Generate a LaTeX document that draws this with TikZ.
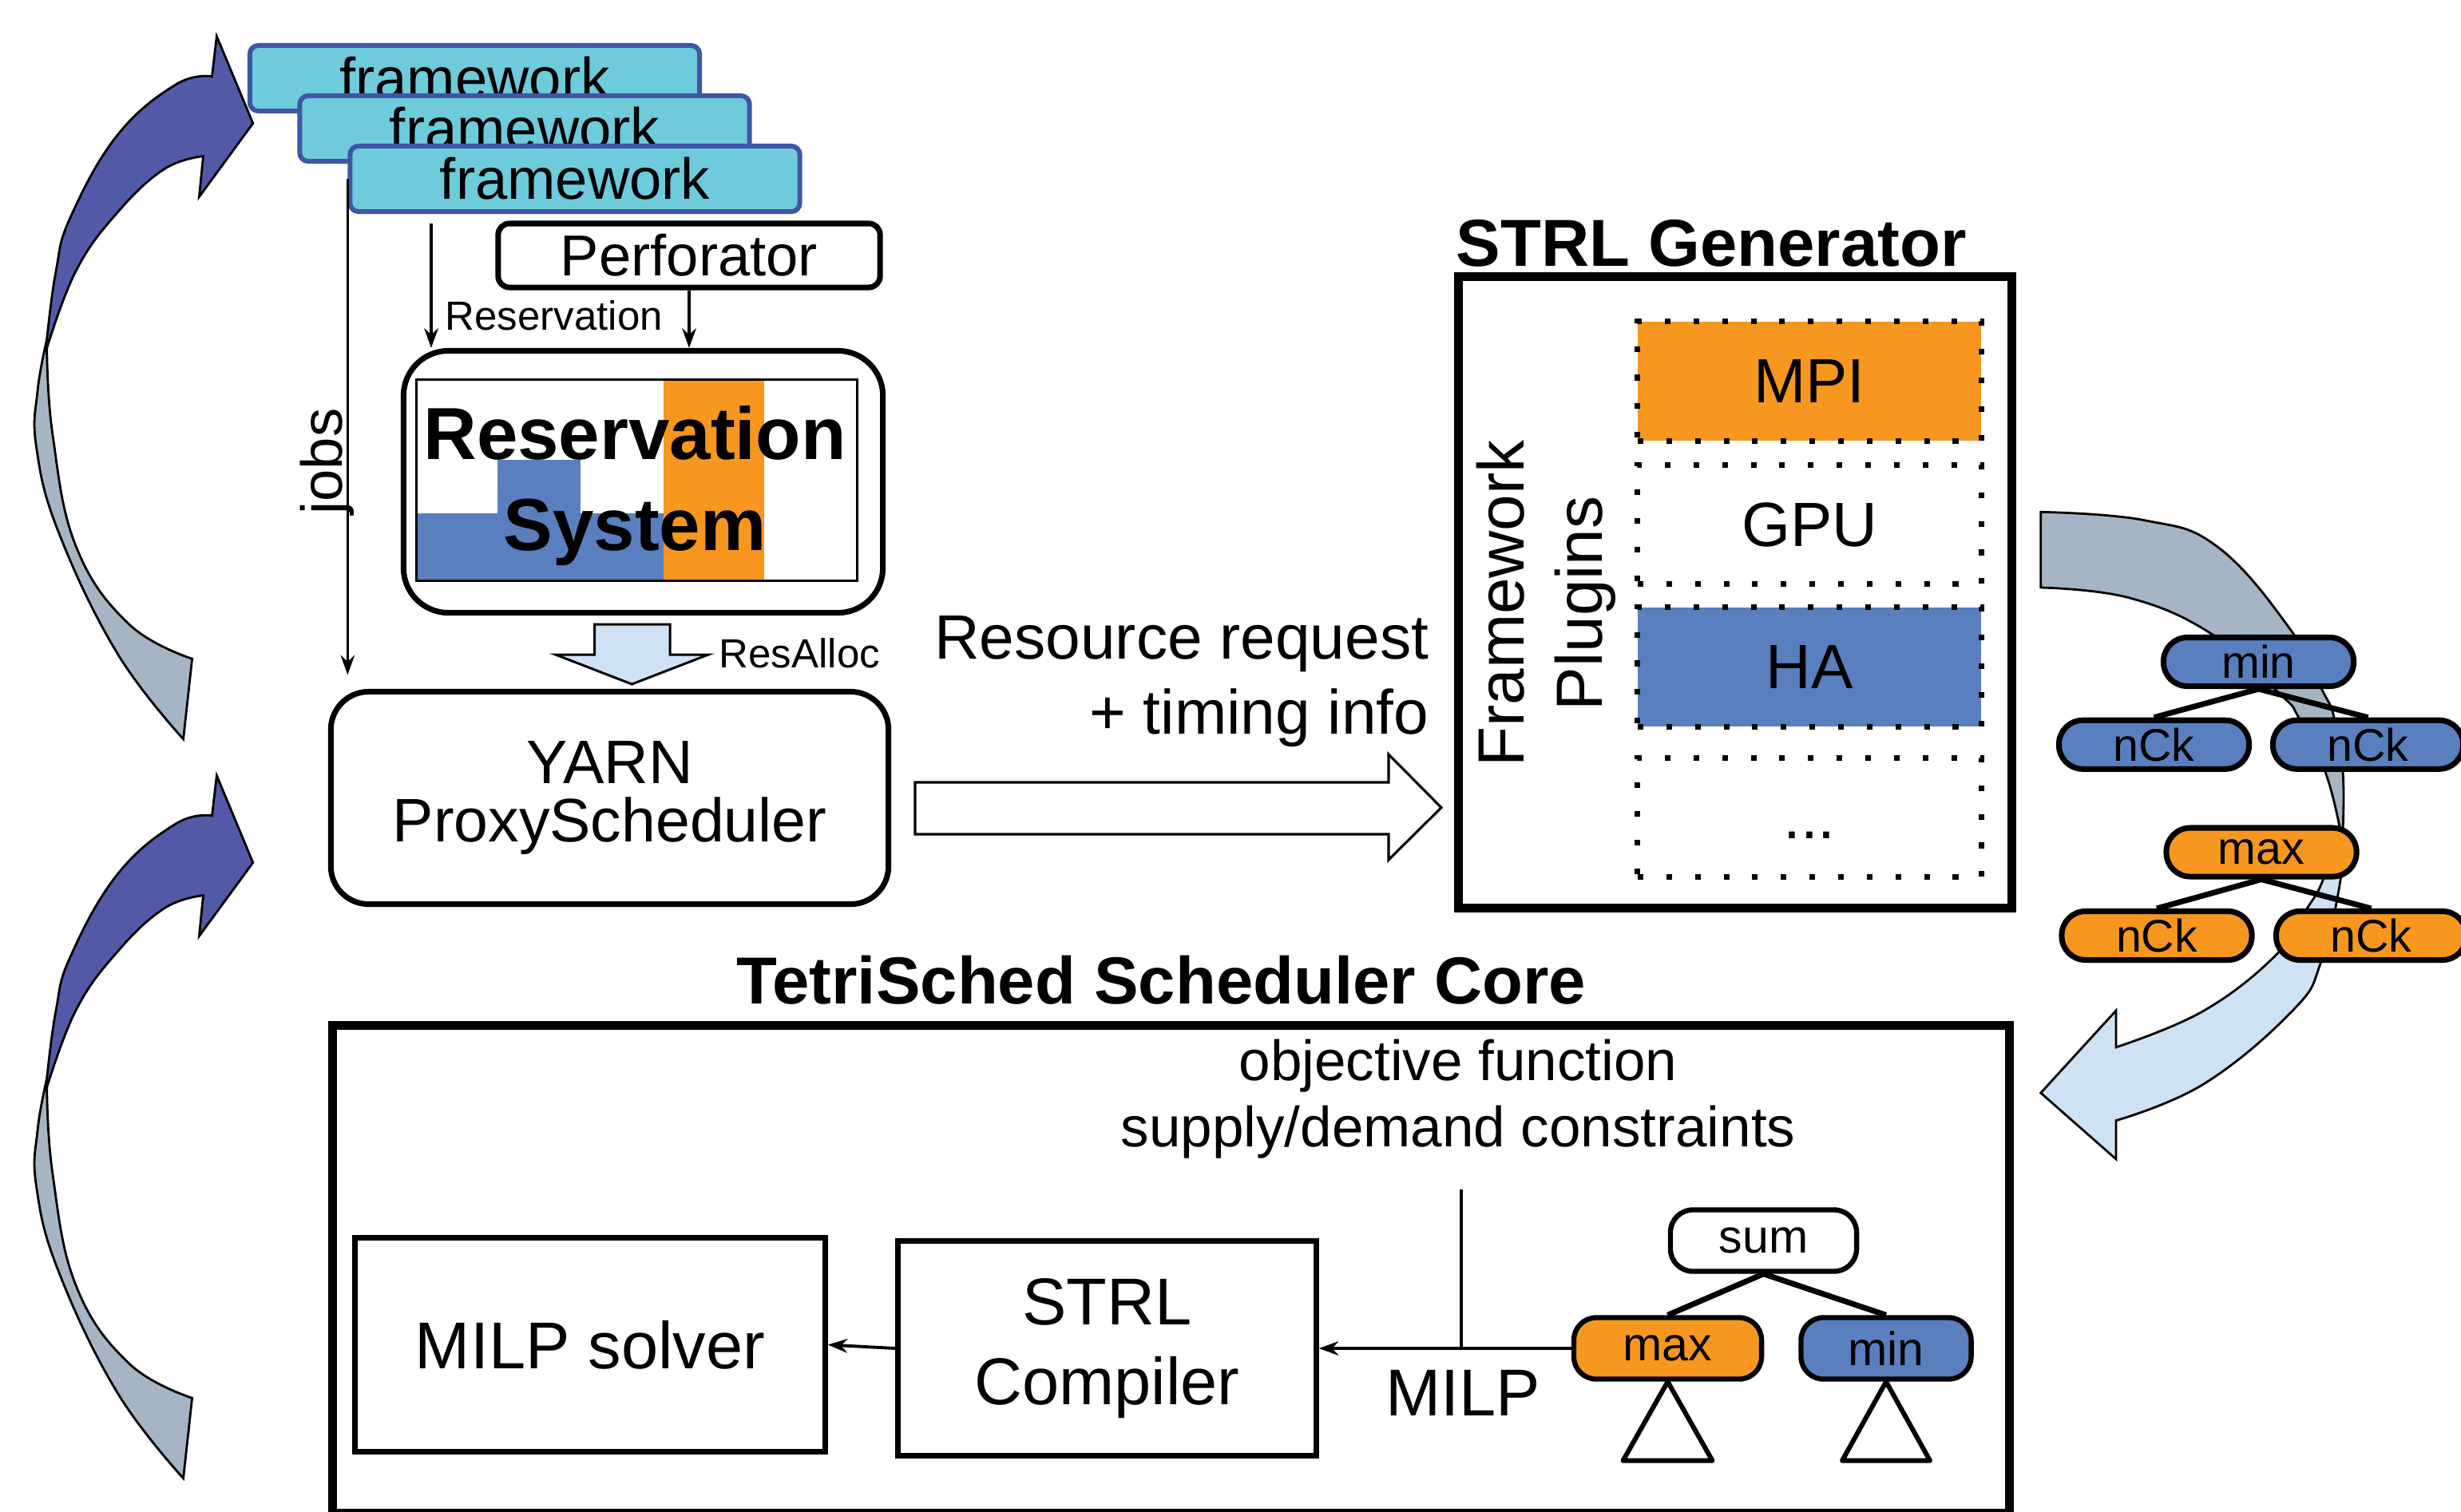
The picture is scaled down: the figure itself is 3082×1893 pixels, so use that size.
\documentclass[tikz,border=0pt]{standalone}
\usepackage{fontspec}
\setmainfont{Liberation Sans}
\usetikzlibrary{arrows.meta}

\definecolor{fwcyan}{HTML}{6DCBDB}
\definecolor{fwedge}{HTML}{3F56A6}
\definecolor{mpiorange}{HTML}{F7971F}
\definecolor{hablue}{HTML}{5A7FBF}
\definecolor{allocblue}{HTML}{CFE2F3}
\definecolor{backgray}{HTML}{A5B5C4}
\definecolor{loopblue}{HTML}{525AA8}

\begin{document}
\begin{tikzpicture}[x=0.01cm, y=-0.01cm, >={Stealth[length=7pt, width=5pt]},
	fw/.style={draw=fwedge, fill=fwcyan, line width=1.7pt, rounded corners=3pt, minimum width=5.63cm, minimum height=0.82cm, inner sep=0pt, font=\fontsize{20.6}{24}\selectfont},
	rbox/.style={draw, line width=2pt, inner sep=0pt},
	plugin/.style={draw, line width=2pt, dash pattern=on 2pt off 8.2pt, minimum width=4.3cm, minimum height=1.49cm, inner sep=0pt, font=\fontsize{22.3}{26}\selectfont},
	heading/.style={inner sep=0pt, font=\bfseries\fontsize{23.7}{28}\selectfont},
	small/.style={inner sep=0pt, font=\fontsize{14.5}{17}\selectfont},
	pill/.style={draw, line width=2pt, rounded corners=8.5pt, minimum width=2.38cm, minimum height=0.61cm, inner sep=0pt, font=\fontsize{16.3}{19}\selectfont},
	expr/.style={draw, line width=1.8pt, rounded corners=8pt, minimum height=0.77cm, inner sep=0pt, font=\fontsize{16.8}{20}\selectfont},
	band/.style={draw, line width=0.8pt},
]
	\path[use as bounding box, clip] (0,0) rectangle (3082,1893);

	% feedback loops on the left
	\foreach \dy in {0,926} {
	\begin{scope}[shift={(0,\dy)}]
		\filldraw[band, fill=backgray] plot[smooth, tension=0.7] coordinates {(58.7,425) (47,490) (45.5,560) (73.3,666.5) (146.7,818) (229.6,925.8)}
			-- plot[smooth, tension=0.7] coordinates {(240.6,825.2) (161.3,781.6) (95.3,684.7) (66,545) (58.7,436)} -- cycle;
		\filldraw[band, fill=loopblue] plot[smooth, tension=0.7] coordinates {(58.7,425) (70,340) (88,272.7) (146.7,169.7) (220,106) (265.5,95.7)}
			-- (271.4,45.4) -- (316.8,154.5) -- (249.4,246.6)
			-- plot[smooth, tension=0.7] coordinates {(254.5,195.7) (205.4,212) (146.7,266.6) (95.3,339) (58.7,436)} -- cycle;
	\end{scope}
	}

	% frameworks and reservation system
	\node[fw] (fw1) at (594.5,98) {framework};
	\node[fw] (fw2) at (657,161) {framework};
	\node[fw] (fw3) at (720,224) {framework};
	\node[rbox, rounded corners=4pt, minimum width=4.78cm, minimum height=0.8cm, font=\fontsize{20.6}{24}\selectfont] (perf) at (863,320) {Perforator};

	\node[rbox, rounded corners=16pt, minimum width=6cm, minimum height=3.28cm] (rsys) at (805.5,603.5) {};
	\fill[mpiorange] (830.5,475) rectangle (957,727.6);
	\fill[hablue] (521,643) rectangle (830.5,727.6);
	\fill[hablue] (623,575.5) rectangle (727,643);
	\draw[line width=0.85pt] (521,475) rectangle (1073.5,727.6);
	\node[align=center, inner sep=0pt, font=\bfseries\fontsize{26.3}{32.4}\selectfont] (rsyslabel) at (795,608.5) {Reservation\\System};

	\node[rbox, rounded corners=13.5pt, minimum width=6.98cm, minimum height=2.66cm, align=center, font=\fontsize{21.9}{21}\selectfont] (yarn) at (763.5,999.5) {YARN\\ProxyScheduler};

	\coordinate (resv) at (540,280);
	\draw[line width=1pt, ->] (resv) -- (resv |- rsys.north);
	\node[small, anchor=base west] (resvlabel) at (557,413) {Reservation};
	\draw[line width=1pt, ->] (perf.south) -- (perf.south |- rsys.north);
	\draw[line width=1pt, ->, shorten >=5pt] (fw3.west) -- (fw3.west |- yarn.north);
	\node[rotate=90, anchor=south, inner sep=0pt, font=\fontsize{20.6}{24}\selectfont] (jobs) at (444,578) {jobs};

	\draw[line width=0.85pt, fill=allocblue] (744.5,782) -- (839,782) -- (839,820) -- (887,820) -- (791.3,857) -- (695.7,820) -- (744.5,820) -- cycle;
	\node[small, anchor=base west] (alloclabel) at (900,836) {ResAlloc};

	% request to the generator
	\node[align=right, anchor=east, inner sep=0pt, font=\fontsize{22.3}{26.7}\selectfont] (request) at (1790,854) {Resource request\\+ timing info};
	\draw[line width=0.9pt, fill=white] (1146,980) -- (1739,980) -- (1739,945) -- (1805,1011.6) -- (1739,1077) -- (1739,1045) -- (1146,1045) -- cycle;

	% STRL generator
	\node[draw, line width=3.1pt, minimum width=6.92cm, minimum height=7.9cm] (gen) at (2173,742) {};
	\node[heading, anchor=base west] (gentitle) at (1823,333) {STRL Generator};
	\node[plugin, fill=mpiorange] (mpi) at (2266,477.5) {MPI};
	\node[plugin] (gpu) at (2266,657) {GPU};
	\node[plugin, fill=hablue] (ha) at (2266,835.5) {HA};
	\node[plugin] (more) at (2266,1024) {\vphantom{M}...};
	\node[rotate=90, align=center, inner sep=0pt, font=\fontsize{23.3}{27.9}\selectfont] (plugins) at (1936,756) {Framework\\Plugins};

	% generated expression going down to the core
	\filldraw[band, fill=backgray] plot[smooth, tension=0.7] coordinates {(2555.7,641.3) (2685.6,651.7) (2778.4,686) (2871,792.3) (2908,864) (2923,898.5) (2934,967) (2934,1040)}
		-- plot[smooth, tension=0.7] coordinates {(2930,1036) (2912,967) (2878.6,898.5) (2856,870) (2771,795) (2667,749) (2555.7,736)} -- cycle;
	\filldraw[band, fill=allocblue] plot[smooth, tension=0.7] coordinates {(2934,1040) (2930.6,1105) (2906.5,1205.6) (2871,1266) (2760,1357.7) (2650,1403.6)}
		-- (2650,1452) -- (2555.7,1369) -- (2650,1265.8)
		-- plot[smooth, tension=0.7] coordinates {(2650,1311.8) (2760,1266) (2852.6,1194) (2890,1136.7) (2908,1105) (2930,1040)} -- cycle;

	\node[pill, fill=hablue] (tmin) at (2828.5,829) {min};
	\node[pill, fill=hablue] (tminl) at (2697.5,932.75) {nCk};
	\node[pill, fill=hablue] (tminr) at (2965.5,932.75) {nCk};
	\node[pill, fill=mpiorange] (tmax) at (2832,1067.5) {max};
	\node[pill, fill=mpiorange] (tmaxl) at (2701,1172) {nCk};
	\node[pill, fill=mpiorange] (tmaxr) at (2969.5,1172) {nCk};
	\draw[line width=2pt] (tmin.south) -- (tminl.north) (tmin.south) -- (tminr.north);
	\draw[line width=2pt] (tmax.south) -- (tmaxl.north) (tmax.south) -- (tmaxr.north);

	% scheduler core
	\node[heading, anchor=base] (coretitle) at (1454.5,1257) {TetriSched Scheduler Core};
	\node[draw, line width=3.1pt, minimum width=20.99cm, minimum height=6.1cm] (core) at (1466.5,1590) {};
	\node[align=center, inner sep=0pt, font=\fontsize{20.2}{23.6}\selectfont] (objfn) at (1826,1377) {objective function\\supply/demand constraints};
	\node[rbox, minimum width=5.88cm, minimum height=2.67cm, font=\fontsize{23.6}{28.5}\selectfont] (solver) at (739,1684.5) {MILP solver};
	\node[rbox, minimum width=5.23cm, minimum height=2.68cm, align=center, font=\fontsize{23.6}{28.5}\selectfont] (compiler) at (1386.5,1689) {STRL\\Compiler};

	\node[expr, minimum width=2.33cm] (sum) at (2208.5,1554) {sum};
	\node[expr, fill=mpiorange, minimum width=2.35cm] (emax) at (2088.5,1689) {max};
	\node[expr, fill=hablue, minimum width=2.13cm] (emin) at (2362,1689) {min};
	\draw[line width=2pt] (sum.south) -- (emax.north) (sum.south) -- (emin.north);
	\draw[line width=1.7pt, line join=round] (emax.south) -- ++(-56,99) -- ++(112,0) -- cycle;
	\draw[line width=1.7pt, line join=round] (emin.south) -- ++(-55,99) -- ++(110,0) -- cycle;

	\coordinate (objtail) at (1830,1490);
	\coordinate (milpjoin) at (1830,1689);
	\draw[line width=1.1pt] (objtail) -- (milpjoin);
	\draw[line width=1.1pt, ->] (emax.west) -- (compiler.east);
	\node[anchor=base west, inner sep=0pt, font=\fontsize{23.6}{28}\selectfont] (milp) at (1734.5,1773) {MILP};
	\draw[line width=1.1pt, ->] (compiler.west) -- (solver.east);
\end{tikzpicture}
\end{document}
